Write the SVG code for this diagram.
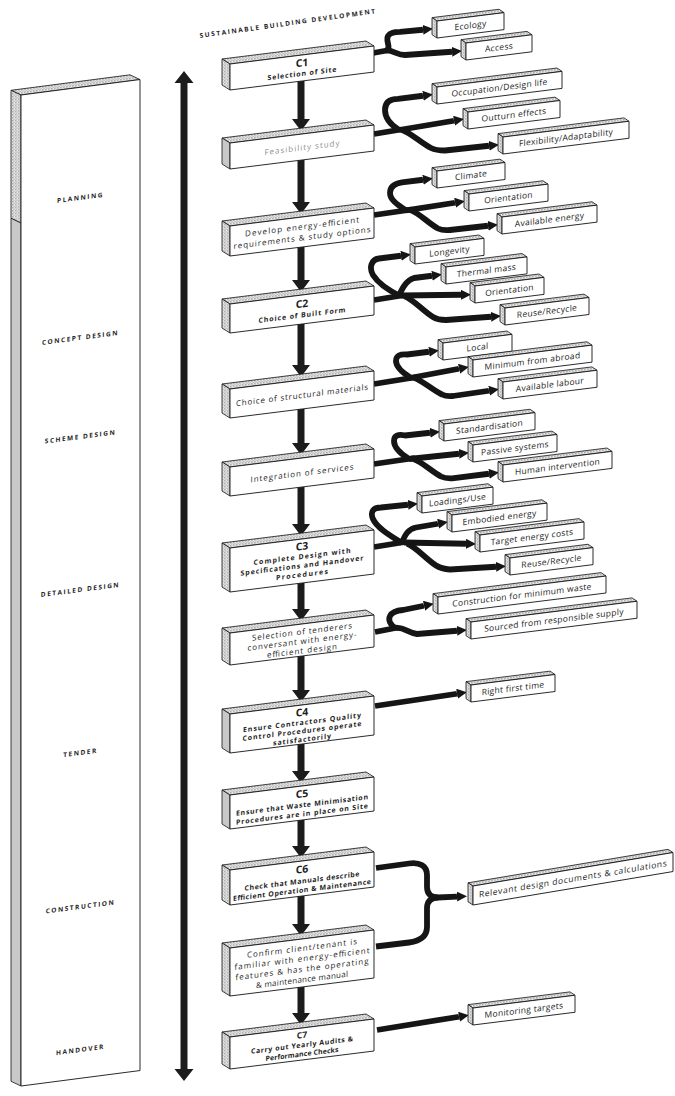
<svg xmlns="http://www.w3.org/2000/svg" width="675" height="1096" viewBox="0 0 675 1096">
<defs>
<pattern id="dots" width="3" height="3" patternUnits="userSpaceOnUse"><rect width="3" height="3" fill="#ececec"/><circle cx="0.8" cy="0.8" r="0.65" fill="#4a4a4a"/><circle cx="2.2" cy="2.2" r="0.5" fill="#7a7a7a"/></pattern>
<marker id="ah" viewBox="0 0 10 10" refX="0" refY="5" markerWidth="10" markerHeight="10" markerUnits="userSpaceOnUse" orient="auto"><path d="M0,0 L10,5 L0,10 z" fill="#151515"/></marker>
<style>
.ff{fill:#fff;stroke:#1a1a1a;stroke-width:0.9}
.sf{fill:url(#dots);stroke:#1a1a1a;stroke-width:0.8}
.gf{fill:#c8c8c8;stroke:#1a1a1a;stroke-width:0.8}
.cn{fill:none;stroke:#151515;stroke-width:5.8;stroke-linejoin:round}
.ar{marker-end:url(#ah)}
.va{fill:#1c1c1c}
text{font-family:"Open Sans","Liberation Sans",sans-serif;fill:#1e1e1e}
.mt{font-size:8px;text-anchor:middle}
.mb{font-size:7px;font-weight:700;text-anchor:middle}
.mc{font-size:10.5px;font-weight:700;text-anchor:middle}
.sx{font-size:8.5px;text-anchor:middle;letter-spacing:0.3px}
.ph{font-size:6.5px;font-weight:700;text-anchor:middle;letter-spacing:1.5px}
</style>
</defs>
<rect width="675" height="1096" fill="#fff"/>

<text id="title" transform="translate(200,38) rotate(-8)" style="font-size:6.5px;font-weight:700" textLength="177">SUSTAINABLE BUILDING DEVELOPMENT</text>

<g id="phase-bar" transform="translate(21,95) skewY(-7.4)">
<polygon class="sf" points="0,0 119,0 109,-6 -10,-6"/>
<polygon class="sf" points="0,0 -10,-6 -10,122 0,128"/>
<polygon class="gf" points="0,128 -10,122 -10,985 0,991"/>
<rect class="ff" width="119" height="991"/>
<text class="ph" x="59.5" y="112.7">PLANNING</text>
<text class="ph" x="59.5" y="252.7">CONCEPT DESIGN</text>
<text class="ph" x="59.5" y="351.7">SCHEME DESIGN</text>
<text class="ph" x="59.5" y="504.7">DETAILED DESIGN</text>
<text class="ph" x="59.5" y="667.7">TENDER</text>
<text class="ph" x="59.5" y="821.7">CONSTRUCTION</text>
<text class="ph" x="59.5" y="964.7">HANDOVER</text>
</g>

<g id="timeline-arrow">
<path class="va" d="M184,71 L193.5,83 L187.5,83 L187.5,1069 L193.5,1069 L184,1081 L174.5,1069 L180.5,1069 L180.5,83 L174.5,83 z"/>
</g>

<g id="connectors">
<g id="main-flow">
<path class="va" d="M297.5,81 h7 v38 h5.5 l-9,12 l-9,-12 h5.5 z"/>
<path class="va" d="M297.5,160 h7 v42 h5.5 l-9,12 l-9,-12 h5.5 z"/>
<path class="va" d="M297.5,247 h7 v33 h5.5 l-9,12 l-9,-12 h5.5 z"/>
<path class="va" d="M297.5,324 h7 v41 h5.5 l-9,12 l-9,-12 h5.5 z"/>
<path class="va" d="M297.5,409 h7 v34 h5.5 l-9,12 l-9,-12 h5.5 z"/>
<path class="va" d="M297.5,487 h7 v37 h5.5 l-9,12 l-9,-12 h5.5 z"/>
<path class="va" d="M297.5,583 h7 v26 h5.5 l-9,12 l-9,-12 h5.5 z"/>
<path class="va" d="M297.5,656 h7 v34 h5.5 l-9,12 l-9,-12 h5.5 z"/>
<path class="va" d="M297.5,744 h7 v27 h5.5 l-9,12 l-9,-12 h5.5 z"/>
<path class="va" d="M297.5,820 h7 v26 h5.5 l-9,12 l-9,-12 h5.5 z"/>
<path class="va" d="M297.5,896 h7 v28 h5.5 l-9,12 l-9,-12 h5.5 z"/>
<path class="va" d="M297.5,987 h7 v26 h5.5 l-9,12 l-9,-12 h5.5 z"/>
</g>
<g id="branches">
<path class="cn" d="M373,53 L387,50.5"/>
<path class="cn ar" d="M386,50.5 C392,48 385,41 388,36 C390,32.5 394,32 400,31.9 L423,29.75"/>
<path class="cn ar" d="M386,50.5 C393,50 397,55 405,55 L452,51.75"/>

<path class="cn" d="M374,134 L401,129.5"/>
<path class="cn ar" d="M399,130 C391,125 385,119 385,110 C385,102 390,99 398,98.9 L423,95.75"/>
<path class="cn ar" d="M399,130 L454,120.75"/>
<path class="cn ar" d="M402,130 C411,133 421,143 431,148 C435,150 439,150.5 445,150.5 L489,145.75"/>

<path class="cn" d="M374,215 L412,209.5"/>
<path class="cn ar" d="M406,210.5 C398,205 390,200 390,193 C390,186.5 395,183.5 402,182.4 L423,179.75"/>
<path class="cn ar" d="M406,210.3 L455,202.75"/>
<path class="cn ar" d="M410,210 C418,212 428,223 438,228.5 C441,230 445,230.5 450,230 L488,225.75"/>

<path class="cn" d="M374,300 L402,295.5"/>
<path class="cn ar" d="M400,296 C390,291 378,283 373,275 C369,268 371,259.5 379,258.5 L401,255.75"/>
<path class="cn ar" d="M399,295.5 C402,289 406,280.5 414,278 L432,275.75"/>
<path class="cn ar" d="M401,295.5 L461,294.75"/>
<path class="cn ar" d="M404,296 C413,299 423,311 433,317 C436,319 440,320 446,320 L491,316.75"/>

<path class="cn" d="M374,384 L417,377"/>
<path class="cn ar" d="M411,378 C403,373 396,367 396,361 C396,355.5 400,354 407,354.5 L429,351.75"/>
<path class="cn ar" d="M410,378 L459,368.75"/>
<path class="cn ar" d="M414,378 C422,380 432,390 442,394.5 C445,396 448,396.5 453,396 L489,390.75"/>

<path class="cn" d="M374,464 L415,458"/>
<path class="cn ar" d="M409,459 C401,454 394,448 394,441 C394,435.5 398,434 405,435.5 L430,432.75"/>
<path class="cn ar" d="M409,459 L459,453.75"/>
<path class="cn ar" d="M413,459 C421,461 431,471 441,476.5 C444,478 447,478.5 452,478.3 L489,473.75"/>

<path class="cn" d="M374,547 L405,542"/>
<path class="cn ar" d="M402,543 C391,536 377,528 373,519 C370,512 373,507.5 381,507.5 L408,504.75"/>
<path class="cn ar" d="M402,542.5 C405,535 408,529 416,527.5 L438,523.75"/>
<path class="cn ar" d="M404,542.5 L466,543.75"/>
<path class="cn ar" d="M407,543.5 C416,547 426,559 436,565.5 C440,568 444,569 450,569.5 L496,566.75"/>

<path class="cn" d="M375,632 L398,627.5"/>
<path class="cn ar" d="M396,628 C390,625 388,620 390,616 C392,612 397,610.5 403,610 L424,605.75"/>
<path class="cn ar" d="M396,628 C404,627 408,633 417,634 L457,630.75"/>

<path class="cn ar" d="M375,706 L457,693.75"/>

<path class="cn ar" d="M376,868 L409,863.5 C420,862 427,866 427,875 L427,887 C427,894 431,897.5 438,897.5 L457,896.6"/>
<path class="cn" d="M376,946.5 L409,942.5 C420,941 427,936 427,927 L427,908 C427,901 431,897.5 438,897.5"/>

<path class="cn ar" d="M377,1030 L459,1016.75"/>
</g>
</g>

<g id="n-c1" transform="translate(230,64) skewY(-7.125)">
<polygon class="sf" points="0,0 144,0 136,-6 -8,-6"/><polygon class="sf" points="0,0 -8,-6 -8,20 0,26"/><rect class="ff" width="144" height="26"/>
<text class="mc" x="72" y="11.5">C1</text><text class="mb" x="72" y="21" textLength="69">Selection of Site</text>
</g>
<g id="n-feasibility" transform="translate(230,143) skewY(-7.125)">
<polygon class="sf" points="0,0 144,0 136,-6 -8,-6"/><polygon class="gf" points="0,0 -8,-6 -8,20 0,26"/><rect class="ff" width="144" height="26"/>
<text class="mt" x="72" y="16.5" textLength="75" style="fill:#8f8f8f">Feasibility study</text>
</g>
<g id="n-develop" transform="translate(230,226) skewY(-7.125)">
<polygon class="sf" points="0,0 144,0 136,-6 -8,-6"/><polygon class="sf" points="0,0 -8,-6 -8,24 0,30"/><rect class="ff" width="144" height="30"/>
<text class="mt" x="72" y="12.5" textLength="114">Develop energy-efficient</text><text class="mt" x="72" y="23.5" textLength="137">requirements &amp; study options</text>
</g>
<g id="n-c2" transform="translate(230,304) skewY(-7.125)">
<polygon class="sf" points="0,0 144,0 136,-6 -8,-6"/><polygon class="sf" points="0,0 -8,-6 -8,23 0,29"/><rect class="ff" width="144" height="29"/>
<text class="mc" x="72" y="12.5">C2</text><text class="mb" x="72" y="22.5" textLength="87">Choice of Built Form</text>
</g>
<g id="n-materials" transform="translate(230,389) skewY(-7.125)">
<polygon class="sf" points="0,0 144,0 136,-6 -8,-6"/><polygon class="sf" points="0,0 -8,-6 -8,23 0,29"/><rect class="ff" width="144" height="29"/>
<text class="mt" x="72" y="18" textLength="132">Choice of structural materials</text>
</g>
<g id="n-services" transform="translate(230,467) skewY(-7.125)">
<polygon class="sf" points="0,0 144,0 136,-6 -8,-6"/><polygon class="sf" points="0,0 -8,-6 -8,23 0,29"/><rect class="ff" width="144" height="29"/>
<text class="mt" x="72" y="18" textLength="103">Integration of services</text>
</g>
<g id="n-c3" transform="translate(230,548) skewY(-7.125)">
<polygon class="sf" points="0,0 144,0 136,-6 -8,-6"/><polygon class="sf" points="0,0 -8,-6 -8,38 0,44"/><rect class="ff" width="144" height="44"/>
<text class="mc" x="72" y="11">C3</text><text class="mb" x="72" y="20" textLength="97">Complete Design with</text><text class="mb" x="72" y="29" textLength="123">Specifications and Handover</text><text class="mb" x="72" y="38" textLength="52">Procedures</text>
</g>
<g id="n-tenderers" transform="translate(230,633) skewY(-7.125)">
<polygon class="sf" points="0,0 144,0 136,-6 -8,-6"/><polygon class="sf" points="0,0 -8,-6 -8,26 0,32"/><rect class="ff" width="144" height="32"/>
<text class="mt" x="72" y="10.5" textLength="100">Selection of tenderers</text><text class="mt" x="72" y="20" textLength="109">conversant with energy-</text><text class="mt" x="72" y="29.5" textLength="70">efficient design</text>
</g>
<g id="n-c4" transform="translate(230,714) skewY(-7.125)">
<polygon class="sf" points="0,0 144,0 136,-6 -8,-6"/><polygon class="gf" points="0,0 -8,-6 -8,33 0,39"/><rect class="ff" width="144" height="39"/>
<text class="mc" x="72" y="11">C4</text><text class="mb" x="72" y="20" textLength="118">Ensure Contractors Quality</text><text class="mb" x="72" y="28.5" textLength="119">Control Procedures operate</text><text class="mb" x="72" y="37" textLength="58">satisfactorily</text>
</g>
<g id="n-c5" transform="translate(230,795) skewY(-7.125)">
<polygon class="sf" points="0,0 144,0 136,-6 -8,-6"/><polygon class="gf" points="0,0 -8,-6 -8,28 0,34"/><rect class="ff" width="144" height="34"/>
<text class="mc" x="72" y="11.5">C5</text><text class="mb" x="72" y="21.5" textLength="132">Ensure that Waste Minimisation</text><text class="mb" x="72" y="30.5" textLength="132">Procedures are in place on Site</text>
</g>
<g id="n-c6" transform="translate(230,870) skewY(-7.125)">
<polygon class="sf" points="0,0 144,0 136,-6 -8,-6"/><polygon class="sf" points="0,0 -8,-6 -8,29 0,35"/><rect class="ff" width="144" height="35"/>
<text class="mc" x="72" y="12">C6</text><text class="mb" x="72" y="22.5" textLength="115">Check that Manuals describe</text><text class="mb" x="72" y="31.5" textLength="138">Efficient Operation &amp; Maintenance</text>
</g>
<g id="n-confirm" transform="translate(230,948) skewY(-7.125)">
<polygon class="sf" points="0,0 144,0 136,-6 -8,-6"/><polygon class="sf" points="0,0 -8,-6 -8,42 0,48"/><rect class="ff" width="144" height="48"/>
<text class="mt" x="72" y="12" textLength="110">Confirm client/tenant is</text><text class="mt" x="72" y="22.5" textLength="135">familiar with energy-efficient</text><text class="mt" x="72" y="33" textLength="133">features &amp; has the operating</text><text class="mt" x="72" y="43.5" textLength="92">&amp; maintenance manual</text>
</g>
<g id="n-c7" transform="translate(230,1037) skewY(-7.125)">
<polygon class="sf" points="0,0 144,0 136,-6 -8,-6"/><polygon class="sf" points="0,0 -8,-6 -8,26 0,32"/><rect class="ff" width="144" height="32"/>
<text class="mb" x="72" y="10" style="font-size:8.5px">C7</text><text class="mb" x="72" y="19.5" textLength="102">Carry out Yearly Audits &amp;</text><text class="mb" x="72" y="28.5" textLength="73">Performance Checks</text>
</g>

<g id="s-ecology" transform="translate(437,21) skewY(-7.125)"><polygon class="sf" points="0,0 67,0 62,-4 -5,-4"/><polygon class="sf" points="0,0 -5,-4 -5,13 0,17"/><rect class="ff" width="67" height="17"/><text class="sx" x="33.5" y="11.5">Ecology</text></g>
<g id="s-access" transform="translate(466,43) skewY(-7.125)"><polygon class="sf" points="0,0 66,0 61,-4 -5,-4"/><polygon class="sf" points="0,0 -5,-4 -5,13 0,17"/><rect class="ff" width="66" height="17"/><text class="sx" x="33" y="11.5">Access</text></g>
<g id="s-occupation" transform="translate(437,87) skewY(-7.125)"><polygon class="sf" points="0,0 125,0 120,-4 -5,-4"/><polygon class="sf" points="0,0 -5,-4 -5,13 0,17"/><rect class="ff" width="125" height="17"/><text class="sx" x="62.5" y="11.5">Occupation/Design life</text></g>
<g id="s-outturn" transform="translate(468,112) skewY(-7.125)"><polygon class="sf" points="0,0 92,0 87,-4 -5,-4"/><polygon class="sf" points="0,0 -5,-4 -5,13 0,17"/><rect class="ff" width="92" height="17"/><text class="sx" x="46" y="11.5">Outturn effects</text></g>
<g id="s-flexibility" transform="translate(503,137) skewY(-7.125)"><polygon class="sf" points="0,0 126,0 121,-4 -5,-4"/><polygon class="sf" points="0,0 -5,-4 -5,13 0,17"/><rect class="ff" width="126" height="17"/><text class="sx" x="63" y="11.5">Flexibility/Adaptability</text></g>
<g id="s-climate" transform="translate(437,171) skewY(-7.125)"><polygon class="sf" points="0,0 68,0 63,-4 -5,-4"/><polygon class="sf" points="0,0 -5,-4 -5,13 0,17"/><rect class="ff" width="68" height="17"/><text class="sx" x="34" y="11.5">Climate</text></g>
<g id="s-orientation1" transform="translate(469,194) skewY(-7.125)"><polygon class="sf" points="0,0 79,0 74,-4 -5,-4"/><polygon class="sf" points="0,0 -5,-4 -5,13 0,17"/><rect class="ff" width="79" height="17"/><text class="sx" x="39.5" y="11.5">Orientation</text></g>
<g id="s-energy" transform="translate(502,217) skewY(-7.125)"><polygon class="sf" points="0,0 95,0 90,-4 -5,-4"/><polygon class="sf" points="0,0 -5,-4 -5,13 0,17"/><rect class="ff" width="95" height="17"/><text class="sx" x="47.5" y="11.5">Available energy</text></g>
<g id="s-longevity" transform="translate(415,247) skewY(-7.125)"><polygon class="sf" points="0,0 69,0 64,-4 -5,-4"/><polygon class="sf" points="0,0 -5,-4 -5,13 0,17"/><rect class="ff" width="69" height="17"/><text class="sx" x="34.5" y="11.5">Longevity</text></g>
<g id="s-thermal" transform="translate(446,267) skewY(-7.125)"><polygon class="sf" points="0,0 81,0 76,-4 -5,-4"/><polygon class="sf" points="0,0 -5,-4 -5,13 0,17"/><rect class="ff" width="81" height="17"/><text class="sx" x="40.5" y="11.5">Thermal mass</text></g>
<g id="s-orientation2" transform="translate(475,286) skewY(-7.125)"><polygon class="sf" points="0,0 69,0 64,-4 -5,-4"/><polygon class="sf" points="0,0 -5,-4 -5,13 0,17"/><rect class="ff" width="69" height="17"/><text class="sx" x="34.5" y="11.5">Orientation</text></g>
<g id="s-reuse1" transform="translate(505,308) skewY(-7.125)"><polygon class="sf" points="0,0 84,0 79,-4 -5,-4"/><polygon class="sf" points="0,0 -5,-4 -5,13 0,17"/><rect class="ff" width="84" height="17"/><text class="sx" x="42" y="11.5">Reuse/Recycle</text></g>
<g id="s-local" transform="translate(443,343) skewY(-7.125)"><polygon class="sf" points="0,0 69,0 64,-4 -5,-4"/><polygon class="sf" points="0,0 -5,-4 -5,13 0,17"/><rect class="ff" width="69" height="17"/><text class="sx" x="34.5" y="11.5">Local</text></g>
<g id="s-abroad" transform="translate(473,360) skewY(-7.125)"><polygon class="sf" points="0,0 119,0 114,-4 -5,-4"/><polygon class="sf" points="0,0 -5,-4 -5,13 0,17"/><rect class="ff" width="119" height="17"/><text class="sx" x="59.5" y="11.5">Minimum from abroad</text></g>
<g id="s-labour" transform="translate(503,382) skewY(-7.125)"><polygon class="sf" points="0,0 94,0 89,-4 -5,-4"/><polygon class="sf" points="0,0 -5,-4 -5,13 0,17"/><rect class="ff" width="94" height="17"/><text class="sx" x="47" y="11.5">Available labour</text></g>
<g id="s-standard" transform="translate(444,424) skewY(-7.125)"><polygon class="sf" points="0,0 91,0 86,-4 -5,-4"/><polygon class="sf" points="0,0 -5,-4 -5,13 0,17"/><rect class="ff" width="91" height="17"/><text class="sx" x="45.5" y="11.5">Standardisation</text></g>
<g id="s-passive" transform="translate(473,445) skewY(-7.125)"><polygon class="sf" points="0,0 84,0 79,-4 -5,-4"/><polygon class="sf" points="0,0 -5,-4 -5,13 0,17"/><rect class="ff" width="84" height="17"/><text class="sx" x="42" y="11.5">Passive systems</text></g>
<g id="s-human" transform="translate(503,465) skewY(-7.125)"><polygon class="sf" points="0,0 109,0 104,-4 -5,-4"/><polygon class="sf" points="0,0 -5,-4 -5,13 0,17"/><rect class="ff" width="109" height="17"/><text class="sx" x="54.5" y="11.5">Human intervention</text></g>
<g id="s-loadings" transform="translate(422,496) skewY(-7.125)"><polygon class="sf" points="0,0 71,0 66,-4 -5,-4"/><polygon class="sf" points="0,0 -5,-4 -5,13 0,17"/><rect class="ff" width="71" height="17"/><text class="sx" x="35.5" y="11.5">Loadings/Use</text></g>
<g id="s-embodied" transform="translate(452,515) skewY(-7.125)"><polygon class="sf" points="0,0 95,0 90,-4 -5,-4"/><polygon class="sf" points="0,0 -5,-4 -5,13 0,17"/><rect class="ff" width="95" height="17"/><text class="sx" x="47.5" y="11.5">Embodied energy</text></g>
<g id="s-target" transform="translate(480,535) skewY(-7.125)"><polygon class="sf" points="0,0 104,0 99,-4 -5,-4"/><polygon class="sf" points="0,0 -5,-4 -5,13 0,17"/><rect class="ff" width="104" height="17"/><text class="sx" x="52" y="11.5">Target energy costs</text></g>
<g id="s-reuse2" transform="translate(510,558) skewY(-7.125)"><polygon class="sf" points="0,0 83,0 78,-4 -5,-4"/><polygon class="sf" points="0,0 -5,-4 -5,13 0,17"/><rect class="ff" width="83" height="17"/><text class="sx" x="41.5" y="11.5">Reuse/Recycle</text></g>
<g id="s-construction" transform="translate(438,597) skewY(-7.125)"><polygon class="sf" points="0,0 168,0 163,-4 -5,-4"/><polygon class="sf" points="0,0 -5,-4 -5,13 0,17"/><rect class="ff" width="168" height="17"/><text class="sx" x="84" y="11.5">Construction for minimum waste</text></g>
<g id="s-sourced" transform="translate(471,622) skewY(-7.125)"><polygon class="sf" points="0,0 166,0 161,-4 -5,-4"/><polygon class="sf" points="0,0 -5,-4 -5,13 0,17"/><rect class="ff" width="166" height="17"/><text class="sx" x="83" y="11.5">Sourced from responsible supply</text></g>
<g id="s-rightfirst" transform="translate(471,685) skewY(-7.125)"><polygon class="sf" points="0,0 84,0 79,-4 -5,-4"/><polygon class="sf" points="0,0 -5,-4 -5,13 0,17"/><rect class="ff" width="84" height="17"/><text class="sx" x="42" y="11.5">Right first time</text></g>
<g id="s-relevant" transform="translate(473,886) skewY(-9.5)"><polygon class="sf" points="0,0 200,0 195,-4 -5,-4"/><polygon class="sf" points="0,0 -5,-4 -5,15 0,19"/><rect class="ff" width="200" height="19"/><text class="sx" x="100" y="12.5" textLength="188">Relevant design documents &amp; calculations</text></g>
<g id="s-monitoring" transform="translate(473,1008) skewY(-7.125)"><polygon class="sf" points="0,0 102,0 97,-4 -5,-4"/><polygon class="sf" points="0,0 -5,-4 -5,13 0,17"/><rect class="ff" width="102" height="17"/><text class="sx" x="51" y="11.5">Monitoring targets</text></g>
</svg>
